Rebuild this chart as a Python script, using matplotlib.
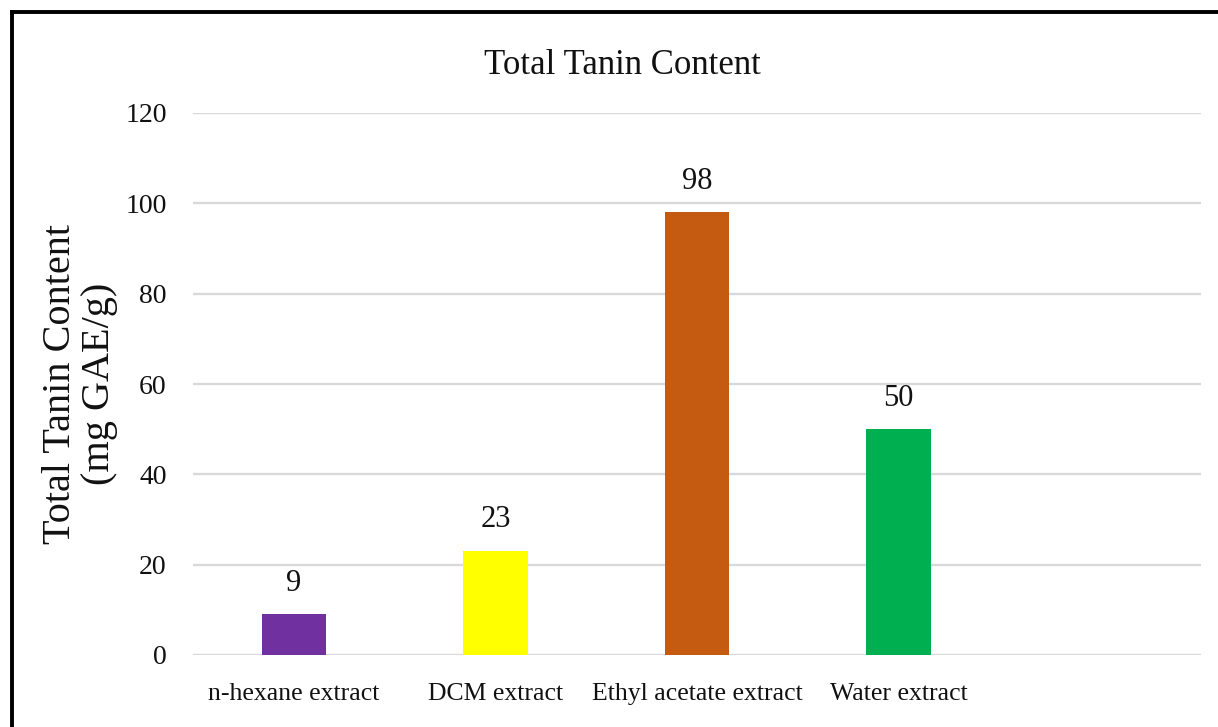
import matplotlib
matplotlib.use("Agg")
import matplotlib.pyplot as plt
from matplotlib.lines import Line2D

# Tannin content per extract (mg GAE/g)
extracts = ["n-hexane extract", "DCM extract", "Ethyl acetate extract", "Water extract", ""]
tannin = [9, 23, 98, 50]
bar_colors = ["#7030A0", "#FFFF00", "#C55A11", "#00B050"]
y_ticks = [0, 20, 40, 60, 80, 100, 120]

plt.rcParams["font.family"] = ["Liberation Serif", "DejaVu Serif"]

W, H = 1218, 727
fig = plt.figure(figsize=(W / 100, H / 100), dpi=100)
ax = fig.add_axes([193 / W, 1 - 655 / H, (1201 - 193) / W, (655 - 113) / H])

x = list(range(len(tannin)))
bars = ax.bar(x, tannin, width=0.32, color=bar_colors, zorder=3)
for rect, v in zip(bars, tannin):
    ax.annotate(f"{v}", (rect.get_x() + rect.get_width() / 2, v),
                xytext=(0, 12), textcoords="offset points",
                ha="center", va="bottom", fontsize=22, color="#111111")

ax.set_xlim(-0.5, len(extracts) - 0.5)
ax.set_ylim(0, 120)
ax.set_yticks(y_ticks)
ax.set_xticks(range(len(extracts)))
ax.set_xticklabels(extracts)
ax.grid(axis="y", color="#D9D9D9", linewidth=1.7, zorder=0)
ax.tick_params(axis="y", length=0, pad=19, labelsize=20, labelcolor="#111111")
ax.tick_params(axis="x", length=0, pad=20, labelsize=18.5, labelcolor="#111111")
for side in ["top", "right", "left", "bottom"]:
    ax.spines[side].set_visible(False)

fig.text(622 / W, 1 - 65 / H, "Total Tanin Content", ha="center", va="center",
         fontsize=25, color="#111111")
fig.text(61 / W, 1 - 384 / H, "Total Tanin Content", rotation=90,
         ha="center", va="center", fontsize=29, color="#111111")
fig.text(100 / W, 1 - 384 / H, "(mg GAE/g)", rotation=90,
         ha="center", va="center", fontsize=29, color="#111111")

# chart frame (left and top edges)
fig.add_artist(Line2D([12 / W, 12 / W], [0, 1 - 12 / H], transform=fig.transFigure,
                      color="black", linewidth=2.8))
fig.add_artist(Line2D([12 / W, 1], [1 - 12 / H, 1 - 12 / H], transform=fig.transFigure,
                      color="black", linewidth=2.8))

fig.savefig("out.png", dpi=100)
